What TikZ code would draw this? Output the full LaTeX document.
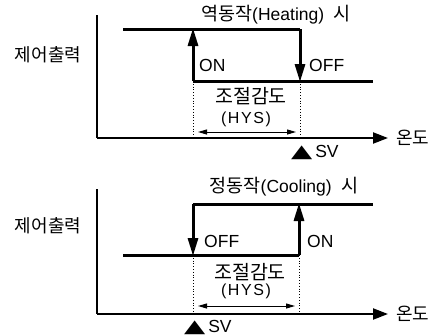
\documentclass[tikz,border=0pt]{standalone}
\usepackage{fontspec}
\usepackage{graphicx}
\setmainfont{Liberation Sans}
\newfontfamily\kr{Noto Sans CJK KR}
\newfontfamily\symfont{DejaVu Sans}
\usetikzlibrary{arrows.meta}
\tikzset{
  axisline/.style={line width=2.2pt},
  axis/.style={line width=2.2pt,-{Triangle[length=15pt,width=11pt]}},
  sig/.style={line width=3pt},
  sigarrow/.style={line width=3pt,-{Triangle[length=18pt,width=10pt]},shorten >=-1pt},
  dotline/.style={line width=0.8pt,dotted},
  hys/.style={line width=1pt,{Triangle[length=9pt,width=5pt]}-{Triangle[length=9pt,width=5pt]}},
  lbl/.style={inner sep=0pt,font=\fontsize{17.5}{19}\selectfont},
  hyslbl/.style={inner sep=0pt,font=\fontsize{16}{18}\selectfont\addfontfeature{LetterSpace=10}},
  klbl/.style={inner sep=0pt,font=\kr\fontsize{18}{20}\selectfont},
  kbig/.style={inner sep=0pt,font=\kr\fontsize{19.5}{21}\selectfont}
}
\newcommand{\svmark}{{\symfont\scalebox{1.45}[0.95]{\fontsize{19}{20}\selectfont ▲}}}
\newcommand{\krt}[1]{{\kr\fontsize{18.5}{20}\selectfont #1}}
\begin{document}
\begin{tikzpicture}[x=1pt,y=-1pt]
\useasboundingbox (0,0) rectangle (434,335);
% ---------- top panel ----------
\coordinate (ya1) at (97,15);
\coordinate (o1) at (97,138);
\coordinate (xa1) at (388,138);
\coordinate (h1s) at (123,29);
\coordinate (h1e) at (300,29);
\coordinate (on1) at (193,29);
\coordinate (l1s) at (193,81);
\coordinate (l1m) at (300,81);
\coordinate (l1e) at (373,81);
\coordinate (d1a) at (193,138);
\coordinate (d1b) at (300,138);
\coordinate (hy1a) at (198,132);
\coordinate (hy1b) at (296,132);
\draw[axisline] (ya1) -- (o1);
\draw[axis] (o1) -- (xa1);
\draw[sig] (h1s) -- (h1e);
\draw[sigarrow] (h1e) -- (l1m);
\draw[sig] (l1s) -- (l1e);
\draw[sigarrow] (l1s) -- (on1);
\draw[dotline] (l1s) -- (d1a);
\draw[dotline] (l1m) -- (d1b);
\draw[hys] (hy1a) -- (hy1b);
\node[lbl,anchor=base] (t1) at (276,20) {\krt{역동작}(Heating)\hspace{0.55em}\krt{시}};
\node[klbl] (y1) at (48,55) {제어출력};
\node[lbl,anchor=base west] (on1l) at (199,71) {ON};
\node[lbl,anchor=base west] (off1l) at (309,71) {OFF};
\node[kbig] (k1) at (251,96) {조절감도};
\node[hyslbl] (hy1) at (246,119) {(HYS)};
\node[klbl,anchor=west] (x1) at (396,138) {온도};
\node[lbl,anchor=base west] (sv1) at (291,157) {\svmark\,SV};
% ---------- bottom panel ----------
\coordinate (ya2) at (97,189);
\coordinate (o2) at (97,314);
\coordinate (xa2) at (388,314);
\coordinate (h2s) at (193,204);
\coordinate (h2m) at (299,204);
\coordinate (h2e) at (373,204);
\coordinate (l2s) at (123,255);
\coordinate (l2a) at (193,255);
\coordinate (l2e) at (299,255);
\coordinate (d2a) at (193,314);
\coordinate (d2b) at (299,314);
\coordinate (hy2a) at (198,306);
\coordinate (hy2b) at (295,306);
\draw[axisline] (ya2) -- (o2);
\draw[axis] (o2) -- (xa2);
\draw[sig] (h2s) -- (h2e);
\draw[sigarrow] (h2s) -- (l2a);
\draw[sig] (l2s) -- (l2e);
\draw[sigarrow] (l2e) -- (h2m);
\draw[dotline] (l2a) -- (d2a);
\draw[dotline] (l2e) -- (d2b);
\draw[hys] (hy2a) -- (hy2b);
\node[lbl,anchor=base] (t2) at (284,192) {\krt{정동작}(Cooling)\hspace{0.55em}\krt{시}};
\node[klbl] (y2) at (48,226) {제어출력};
\node[lbl,anchor=base west] (off2l) at (204,247) {OFF};
\node[lbl,anchor=base west] (on2l) at (307,247) {ON};
\node[kbig] (k2) at (250,272) {조절감도};
\node[hyslbl] (hy2) at (246,291) {(HYS)};
\node[klbl,anchor=west] (x2) at (396,314) {온도};
\node[lbl,anchor=base west] (sv2) at (184,332) {\svmark\,SV};
\end{tikzpicture}
\end{document}
